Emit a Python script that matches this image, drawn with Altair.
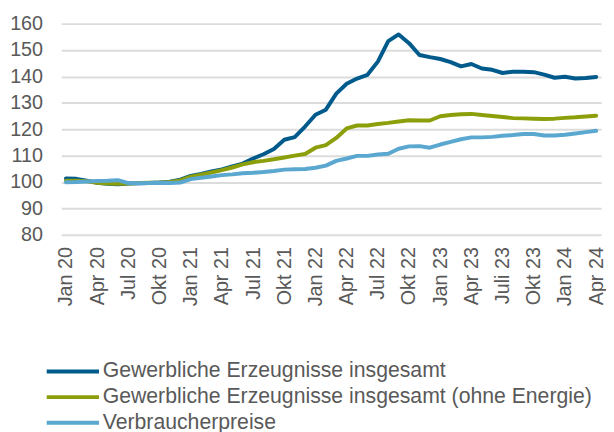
import json
import altair as alt
import pandas as pd

series_names = [
    "Gewerbliche Erzeugnisse insgesamt",
    "Gewerbliche Erzeugnisse insgesamt (ohne Energie)",
    "Verbraucherpreise",
]
colors = ["#005b8c", "#8c9f0a", "#5aa7d0"]

tick_labels = ["Jan 20", "Apr 20", "Jul 20", "Okt 20", "Jan 21", "Apr 21", "Jul 21", "Okt 21",
               "Jan 22", "Apr 22", "Jul 22", "Okt 22", "Jan 23", "Apr 23", "Juli 23", "Okt 23",
               "Jan 24", "Apr 24"]

# monthly values Jan 2020 .. Apr 2024
gewerblich = [101.3, 101.2, 100.5, 99.7, 99.3, 99.1, 99.4, 99.5, 99.6, 99.8, 100.1, 100.9,
              102.3, 103.1, 104.0, 104.8, 105.9, 107.0, 108.9, 110.5, 112.5, 116.0, 117.0, 121.0,
              125.5, 127.4, 133.5, 137.2, 139.2, 140.6, 145.6, 153.4, 155.9, 152.6, 148.1, 147.3,
              146.6, 145.4, 143.8, 144.7, 143.0, 142.5, 141.3, 141.8, 141.8, 141.6, 140.7, 139.5,
              139.9, 139.2, 139.4, 139.8]
ohne_energie = [100.5, 100.5, 100.3, 99.7, 99.4, 99.3, 99.4, 99.6, 99.7, 99.8, 100.0, 100.6,
                102.0, 102.8, 103.6, 104.5, 105.5, 106.7, 107.5, 108.0, 108.6, 109.3, 110.0, 110.6,
                113.0, 114.0, 116.7, 120.3, 121.4, 121.4, 122.0, 122.4, 122.9, 123.4, 123.3, 123.3,
                124.9, 125.4, 125.7, 125.8, 125.4, 125.0, 124.6, 124.2, 124.1, 124.0, 123.9, 124.0,
                124.3, 124.5, 124.8, 125.1]
verbraucher = [99.9, 100.0, 100.2, 100.4, 100.5, 100.7, 99.6, 99.5, 99.6, 99.7, 99.6, 99.8,
               101.1, 101.6, 102.1, 102.6, 102.9, 103.3, 103.5, 103.8, 104.2, 104.7, 104.8, 104.9,
               105.4, 106.2, 108.0, 108.9, 109.9, 109.9, 110.4, 110.7, 112.6, 113.5, 113.6, 113.0,
               114.2, 115.2, 116.2, 116.9, 116.9, 117.1, 117.5, 117.8, 118.2, 118.2, 117.6, 117.6,
               117.9, 118.4, 118.9, 119.4]

rows = []
for name, vals in zip(series_names, [gewerblich, ohne_energie, verbraucher]):
    for i, v in enumerate(vals):
        rows.append({"m": i, "wert": v, "reihe": name})
df = pd.DataFrame(rows)

FONT = "Liberation Sans"
GRAY = "#595959"

label_expr = json.dumps(tick_labels) + "[round(datum.value/3)]"

chart = alt.Chart(df).mark_line(strokeWidth=4, strokeCap="round", strokeJoin="round").encode(
    x=alt.X("m:Q",
            scale=alt.Scale(domain=[-0.45, 51.47], nice=False, zero=False),
            axis=alt.Axis(values=list(range(0, 52, 3)), labelExpr=label_expr, labelAngle=-90,
                          labelFontSize=20, labelColor=GRAY, labelFont=FONT, labelPadding=12,
                          ticks=False, domain=False, grid=False, title=None,
                          labelOverlap=False, labelBaseline="middle")),
    y=alt.Y("wert:Q",
            scale=alt.Scale(domain=[80, 160], nice=False, zero=False),
            axis=alt.Axis(values=list(range(80, 161, 10)), labelFontSize=20, labelColor=GRAY,
                          labelFont=FONT, labelPadding=19, ticks=False, domain=False,
                          gridColor="#dcdcdc", gridWidth=2, title=None)),
    color=alt.Color("reihe:N",
                    scale=alt.Scale(domain=series_names, range=colors),
                    sort=series_names,
                    legend=alt.Legend(orient="none", legendX=-17, legendY=337, title=None,
                                      symbolType="M-1,0H3", symbolSize=702, symbolStrokeWidth=4,
                                      labelFontSize=21.5, labelColor=GRAY, labelFont=FONT,
                                      labelOffset=28, rowPadding=0, symbolOffset=0,
                                      labelLimit=700)),
    order=alt.Order("m:Q"),
).properties(
    width=547, height=214,
    autosize=alt.AutoSizeParams(type="none"),
    padding={"left": 54, "top": 13, "right": 5, "bottom": 197},
).configure_view(stroke=None)

chart.save("out.html", embed_options={"renderer": "svg", "actions": False})
